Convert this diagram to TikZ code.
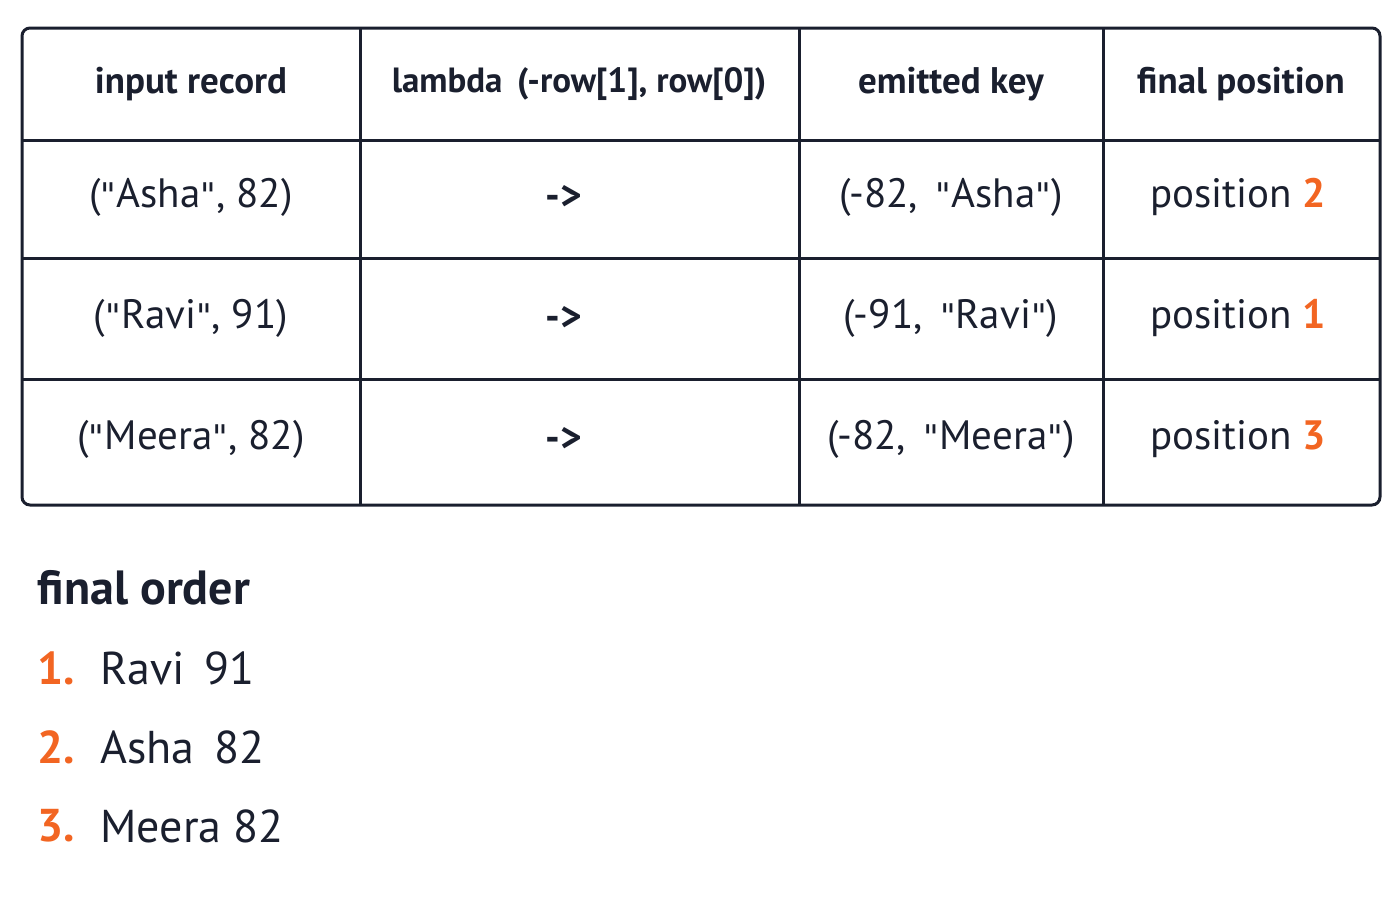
\documentclass[tikz,border=0pt]{standalone}
\usepackage{fontspec}
\setmainfont{PT Sans}
\newfontfamily\qfont{DejaVu Sans}
\newcommand{\qq}{{\qfont\fontsize{34}{40}\selectfont\symbol{34}}}
\begin{document}
\begin{tikzpicture}[x=1pt,y=-1pt,
  hd/.style={font=\fontsize{37}{40}\selectfont\bfseries,text=ink},
  cell/.style={font=\fontsize{41}{44}\selectfont,text=ink},
  li/.style={font=\fontsize{46}{50}\selectfont,text=ink,anchor=west},
  num/.style={font=\fontsize{46}{50}\selectfont\bfseries,text=acc,anchor=west}]
\definecolor{ink}{HTML}{1A1F2E}
\definecolor{acc}{HTML}{F26522}
\useasboundingbox (0,0) rectangle (1400,900);
\draw[ink,line width=3pt,rounded corners=8pt] (22,28) rectangle (1380,505);
\foreach \x in {360,799,1103} \draw[ink,line width=3pt] (\x,28) -- (\x,505);
\foreach \y in {140,258,379} \draw[ink,line width=3pt] (22,\y) -- (1380,\y);
\node[hd] (h1) at (191,84) {input record};
\node[hd,font=\fontsize{35}{40}\selectfont\bfseries] (h2) at (579,84) {lambda\, (-row[1], row[0])};
\node[hd] (h3) at (951,84) {emitted key};
\node[hd] (h4) at (1241,84) {final position};
\node[cell] (a1) at (191,197) {(\qq Asha\qq, 82)};
\node[cell,font=\fontsize{41}{44}\selectfont\bfseries] (a2) at (564,197) {->};
\node[cell] (a3) at (951,197) {(-82,\, \qq Asha\qq)};
\node[cell] (a4) at (1238,197) {position \textcolor{acc}{\bfseries 2}};
\node[cell] (b1) at (191,318) {(\qq Ravi\qq, 91)};
\node[cell,font=\fontsize{41}{44}\selectfont\bfseries] (b2) at (564,318) {->};
\node[cell] (b3) at (951,318) {(-91,\, \qq Ravi\qq)};
\node[cell] (b4) at (1238,318) {position \textcolor{acc}{\bfseries 1}};
\node[cell] (c1) at (191,439) {(\qq Meera\qq, 82)};
\node[cell,font=\fontsize{41}{44}\selectfont\bfseries] (c2) at (564,439) {->};
\node[cell] (c3) at (951,439) {(-82,\, \qq Meera\qq)};
\node[cell] (c4) at (1238,439) {position \textcolor{acc}{\bfseries 3}};
\node[li,font=\fontsize{48}{52}\selectfont\bfseries] (t) at (34,588) {final order};
\node[num] (n1) at (34,668) {1.};
\node[li] (l1) at (97,668) {Ravi\, 91};
\node[num] (n2) at (34,747) {2.};
\node[li] (l2) at (97,747) {Asha\, 82};
\node[num] (n3) at (34,826) {3.};
\node[li] (l3) at (97,826) {Meera 82};
\end{tikzpicture}
\end{document}
